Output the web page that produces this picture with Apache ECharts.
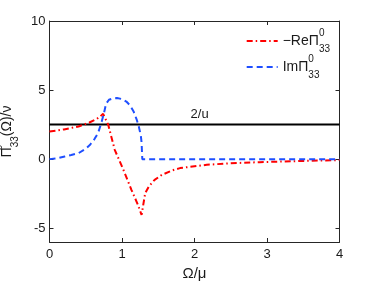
<!DOCTYPE html>
<html>
<head>
<meta charset="utf-8">
<script src="https://cdn.jsdelivr.net/npm/echarts@6/dist/echarts.min.js"></script>
<style>html,body{margin:0;padding:0;background:#fff}#c{width:374px;height:281px}</style>
</head>
<body>
<div id="c"></div>
<script>
var reX = [0, 0.2, 0.4, 0.55, 0.65, 0.7, 0.74, 0.81, 0.9, 1.02, 1.13, 1.22, 1.27, 1.32, 1.37, 1.45, 1.55, 1.7, 1.8, 2.0, 2.17, 2.5, 2.9, 3.5, 4];
var reY = [2.0, 2.15, 2.36, 2.65, 2.9, 3.09, 3.28, 2.49, 0.67, -0.78, -2.22, -3.31, -4.04, -2.46, -1.98, -1.5, -1.14, -0.8, -0.65, -0.52, -0.41, -0.3, -0.22, -0.13, -0.07];
var imX = [0, 0.1, 0.21, 0.3, 0.4, 0.5, 0.56, 0.62, 0.67, 0.72, 0.75, 0.78, 0.82, 0.86, 0.93, 1.0, 1.06, 1.11, 1.16, 1.2, 1.23, 1.26, 1.27, 1.28, 2, 3, 4];
var imY = [0, 0.05, 0.19, 0.3, 0.43, 0.75, 1.04, 1.45, 1.88, 2.72, 3.3, 4.0, 4.3, 4.37, 4.42, 4.35, 4.17, 3.9, 3.45, 2.9, 2.4, 1.7, 1.2, 0, 0, 0, 0];
var uX = [0, 2.07, 4];
var uY = [2.5, 2.5, 2.5];
var uLabel = '2/u';
var xTicks = [0, 1, 2, 3, 4];
var yTicks = [-5, 0, 5, 10];

function zip(a, b) { return a.map(function (v, i) { return [v, b[i]]; }); }

var FONT = 'Liberation Sans, Arial, sans-serif';
var TXT = '#1a1a1a';
var AX = '#262626';

var chart = echarts.init(document.getElementById('c'), null, { renderer: 'canvas' });

var axisCommon = {
  axisLine: { show: true, onZero: false, lineStyle: { color: AX, width: 1 } },
  axisTick: { show: true, inside: true, length: 4, lineStyle: { color: AX, width: 1 } },
  splitLine: { show: false }
};

chart.setOption({
  animation: false,
  backgroundColor: '#fff',
  textStyle: { fontFamily: FONT },
  grid: { left: 49.5, right: 34.5, top: 21, bottom: 39, containLabel: false, outerBoundsMode: 'none' },
  legend: {
    orient: 'vertical',
    right: 39,
    top: 23,
    itemWidth: 31,
    itemHeight: 10,
    itemGap: 0,
    data: ['re', 'im'],
    itemStyle: { opacity: 0 },
    textStyle: {
      fontFamily: FONT, color: TXT, fontSize: 14,
      rich: {
        t: { fontSize: 14, fontFamily: FONT, color: TXT, verticalAlign: 'middle', lineHeight: 26 },
        sp: { fontSize: 10, fontFamily: FONT, color: TXT, width: 0, verticalAlign: 'top', lineHeight: 26 },
        sb: { fontSize: 10, fontFamily: FONT, color: TXT, verticalAlign: 'bottom', lineHeight: 26 }
      }
    },
    formatter: function (n) {
      if (n === 're') return '{t|\u2212Re\u03a0}{sp|0}{sb|33}';
      return '{t|Im\u03a0}{sp|0}{sb|33}';
    }
  },
  xAxis: [
    Object.assign({}, axisCommon, {
      type: 'value', min: 0, max: 4, interval: 1, position: 'bottom',
      axisLabel: { color: TXT, fontSize: 13, fontFamily: FONT, margin: 6, customValues: xTicks },
      axisTick: Object.assign({}, axisCommon.axisTick, { customValues: xTicks }),
      name: '\u03a9/\u03bc', nameLocation: 'middle', nameGap: 20,
      nameTextStyle: { color: TXT, fontSize: 15, fontFamily: FONT, verticalAlign: 'top' }
    }),
    Object.assign({}, axisCommon, {
      type: 'value', min: 0, max: 4, interval: 1, position: 'top',
      axisLabel: { show: false }
    })
  ],
  yAxis: [
    Object.assign({}, axisCommon, {
      type: 'value', min: -6, max: 10, position: 'left',
      axisLabel: { color: TXT, fontSize: 13, fontFamily: FONT, margin: 4, customValues: yTicks },
      axisTick: Object.assign({}, axisCommon.axisTick, { customValues: yTicks }),
      name: '{m|\u03a0}{sp|0}{sb|33}{m|(\u03a9)/\u03bd}', nameLocation: 'middle', nameGap: 24, nameRotate: 90,
      nameTextStyle: {
        color: TXT, fontSize: 14, fontFamily: FONT,
        rich: {
          m: { fontSize: 14, fontFamily: FONT, color: TXT, verticalAlign: 'middle', lineHeight: 26 },
          sp: { fontSize: 10, fontFamily: FONT, color: TXT, width: 0, verticalAlign: 'top', lineHeight: 26 },
          sb: { fontSize: 10, fontFamily: FONT, color: TXT, verticalAlign: 'bottom', lineHeight: 26 }
        }
      }
    }),
    Object.assign({}, axisCommon, {
      type: 'value', min: -6, max: 10, position: 'right',
      axisLabel: { show: false },
      axisTick: Object.assign({}, axisCommon.axisTick, { customValues: yTicks })
    })
  ],
  series: [
    {
      name: 'u', type: 'line', data: zip(uX, uY), symbol: 'none', silent: true,
      lineStyle: { color: '#000', width: 2 },
      markPoint: {
        symbol: 'circle', symbolSize: 1, silent: true,
        itemStyle: { color: 'rgba(0,0,0,0)' },
        label: { show: true, position: 'top', distance: 3, color: TXT, fontSize: 13, fontFamily: FONT, formatter: uLabel },
        data: [{ coord: [uX[1], uY[1]] }]
      },
      z: 3
    },
    {
      name: 're', type: 'line', data: zip(reX, reY), symbol: 'none',
      lineStyle: { color: '#ff0000', width: 2, type: [6, 3, 1.5, 3] },
      itemStyle: { color: '#ff0000' },
      z: 4
    },
    {
      name: 'im', type: 'line', data: zip(imX, imY), symbol: 'none',
      lineStyle: { color: '#1f4fff', width: 2, type: [6, 4] },
      itemStyle: { color: '#1f4fff' },
      z: 5
    }
  ]
});
</script>
</body>
</html>
